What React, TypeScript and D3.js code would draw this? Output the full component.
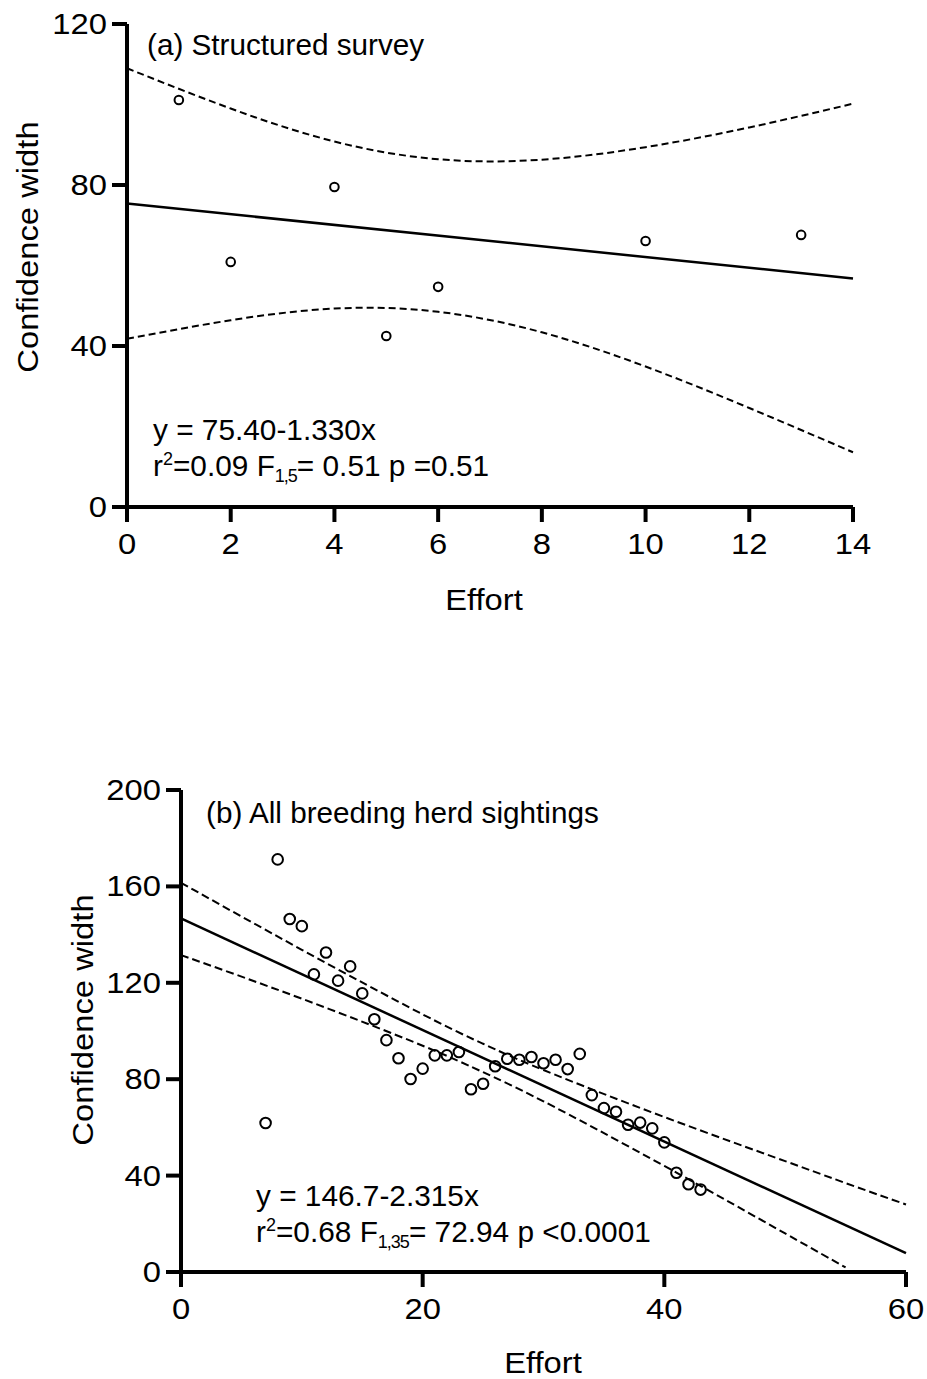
import React from "react"
import * as d3 from "d3"

// (a) structured survey
const effortA = [1, 2, 4, 5, 6, 10, 13]
const widthA = [101.1, 60.9, 79.5, 42.5, 54.7, 66.1, 67.6]
const interceptA = 75.4
const slopeA = -1.33
const bandXA = [0, 2, 4, 6, 8, 10, 12, 14]
const upperA = [109.0, 99.0, 90.8, 86.4, 86.3, 89.4, 94.3, 100.2]
const lowerA = [41.8, 46.4, 49.3, 48.5, 43.4, 34.9, 24.6, 13.6]
const xTicksA = [0, 2, 4, 6, 8, 10, 12, 14]
const yTicksA = [0, 40, 80, 120]

// (b) all breeding herd sightings
const effortB = [
  7, 8, 9, 10, 11, 12, 13, 14, 15, 16, 17, 18, 19, 20, 21, 22, 23, 24, 25,
  26, 27, 28, 29, 30, 31, 32, 33, 34, 35, 36, 37, 38, 39, 40, 41, 42, 43,
]
const widthB = [
  61.8, 171.2, 146.5, 143.5, 123.5, 132.6, 120.9, 126.8, 115.6, 104.9, 96.2,
  88.7, 80.1, 84.4, 89.9, 89.9, 91.3, 75.8, 78.1, 85.4, 88.5, 88.1, 89.2,
  86.6, 88.1, 84.2, 90.5, 73.4, 68.0, 66.5, 61.1, 62.0, 59.6, 53.8, 41.2,
  36.4, 34.2,
]
const interceptB = 146.7
const slopeB = -2.315
const bandXB = [0, 10, 20, 25, 30, 40, 50, 55, 60]
const upperB = [161.5, 133.7, 106.9, 94.7, 83.8, 64.3, 46.0, 36.9, 28.0]
const bandXBLow = [0, 10, 20, 25, 30, 40, 50, 55]
const lowerB = [131.5, 113.4, 93.9, 82.9, 70.8, 44.0, 16.0, 1.9]
const xTicksB = [0, 20, 40, 60]
const yTicksB = [0, 40, 80, 120, 160, 200]

const FONT = "'Liberation Sans', Arial, Helvetica, sans-serif"
const SX = 1.13 // the labels of the original are a bit wide

type PanelProps = {
  title: string
  eq: string
  stat1: string
  sub: string
  stat2: string
  xs: number[]
  ys: number[]
  intercept: number
  slope: number
  bandX: number[]
  upper: number[]
  bandXLow: number[]
  lower: number[]
  xTicks: number[]
  yTicks: number[]
  left: number
  right: number
  top: number
  bottom: number
  r: number
  dash: string
  titleX: number
  titleY: number
  eqX: number
  eqY: number
  yTitleX: number
  yTitleY: number
  xTitleX: number
  xTitleY: number
}

function Panel(p: PanelProps) {
  const x = d3
    .scaleLinear()
    .domain([p.xTicks[0], p.xTicks[p.xTicks.length - 1]])
    .range([p.left, p.right])
  const y = d3
    .scaleLinear()
    .domain([p.yTicks[0], p.yTicks[p.yTicks.length - 1]])
    .range([p.bottom, p.top])

  const band = d3
    .line<[number, number]>()
    .x((d) => x(d[0]))
    .y((d) => y(d[1]))
    .curve(d3.curveNatural)

  const up = band(p.bandX.map((v, i) => [v, p.upper[i]]))
  const lo = band(p.bandXLow.map((v, i) => [v, p.lower[i]]))
  const dom = x.domain()
  const tick = 15

  return (
    <g fontFamily={FONT} fill="#000">
      {/* confidence bands */}
      <path d={up || ""} fill="none" stroke="#000" strokeWidth={2} strokeDasharray={p.dash} />
      <path d={lo || ""} fill="none" stroke="#000" strokeWidth={2} strokeDasharray={p.dash} />
      {/* regression */}
      <line
        x1={x(dom[0])}
        y1={y(p.intercept + p.slope * dom[0])}
        x2={x(dom[1])}
        y2={y(p.intercept + p.slope * dom[1])}
        stroke="#000"
        strokeWidth={2.5}
      />
      {p.xs.map((v, i) => (
        <circle key={i} cx={x(v)} cy={y(p.ys[i])} r={p.r} fill="none" stroke="#000" strokeWidth={2} />
      ))}

      {/* axes */}
      <line x1={p.left} y1={p.top} x2={p.left} y2={p.bottom + tick} stroke="#000" strokeWidth={4} />
      <line x1={p.left - tick} y1={p.bottom} x2={p.right} y2={p.bottom} stroke="#000" strokeWidth={4} />
      {p.yTicks.map((t) => (
        <g key={"y" + t}>
          <line x1={p.left - tick} x2={p.left} y1={y(t)} y2={y(t)} stroke="#000" strokeWidth={4} />
          <text
            transform={`translate(${p.left - 20},${y(t) + 10}) scale(${SX},1)`}
            fontSize={29}
            textAnchor="end"
          >
            {t}
          </text>
        </g>
      ))}
      {p.xTicks.map((t) => (
        <g key={"x" + t}>
          <line x1={x(t)} x2={x(t)} y1={p.bottom} y2={p.bottom + tick} stroke="#000" strokeWidth={4} />
          <text
            transform={`translate(${x(t)},${p.bottom + 47}) scale(${SX},1)`}
            fontSize={29}
            textAnchor="middle"
          >
            {t}
          </text>
        </g>
      ))}

      <text
        transform={`translate(${p.xTitleX},${p.xTitleY}) scale(${SX},1)`}
        fontSize={29}
        textAnchor="middle"
      >
        Effort
      </text>
      <text
        transform={`translate(${p.yTitleX},${p.yTitleY}) rotate(-90) scale(${SX},1)`}
        fontSize={29}
        textAnchor="middle"
      >
        Confidence width
      </text>

      <text x={p.titleX} y={p.titleY} fontSize={29.7}>
        {p.title}
      </text>
      <text x={p.eqX} y={p.eqY} fontSize={29.8}>
        {p.eq}
      </text>
      <text x={p.eqX} y={p.eqY + 36} fontSize={29.8}>
        r
        <tspan fontSize={18} dy={-11}>
          2
        </tspan>
        <tspan dy={11}>{p.stat1}</tspan>
        <tspan fontSize={18} dy={6} letterSpacing={-1}>
          {p.sub}
        </tspan>
        <tspan dy={-6}>{p.stat2}</tspan>
      </text>
    </g>
  )
}

export default function App() {
  return (
    <svg
      width={927}
      height={1379}
      style={{ position: "absolute", left: 0, top: 0, background: "#fff" }}
    >
      <rect width={927} height={1379} fill="#fff" />
      <Panel
        title="(a) Structured survey"
        eq="y = 75.40-1.330x"
        stat1="=0.09 F"
        sub="1,5"
        stat2="= 0.51 p =0.51"
        xs={effortA}
        ys={widthA}
        intercept={interceptA}
        slope={slopeA}
        bandX={bandXA}
        upper={upperA}
        bandXLow={bandXA}
        lower={lowerA}
        xTicks={xTicksA}
        yTicks={yTicksA}
        left={127}
        right={853}
        top={24}
        bottom={507}
        r={4.3}
        dash="7,4"
        titleX={147}
        titleY={55}
        eqX={153}
        eqY={440}
        yTitleX={38}
        yTitleY={247}
        xTitleX={484}
        xTitleY={610}
      />
      <Panel
        title="(b) All breeding herd sightings"
        eq="y = 146.7-2.315x"
        stat1="=0.68 F"
        sub="1,35"
        stat2="= 72.94 p <0.0001"
        xs={effortB}
        ys={widthB}
        intercept={interceptB}
        slope={slopeB}
        bandX={bandXB}
        upper={upperB}
        bandXLow={bandXBLow}
        lower={lowerB}
        xTicks={xTicksB}
        yTicks={yTicksB}
        left={181}
        right={906}
        top={790}
        bottom={1272}
        r={5.3}
        dash="8,4"
        titleX={206}
        titleY={823}
        eqX={256}
        eqY={1206}
        yTitleX={93}
        yTitleY={1020}
        xTitleX={543}
        xTitleY={1373}
      />
    </svg>
  )
}
